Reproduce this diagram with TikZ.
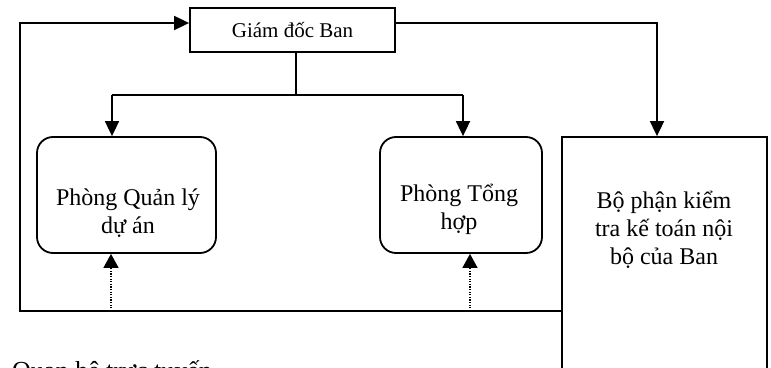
\documentclass[tikz,border=0pt]{standalone}
\usepackage{fontspec}
\setmainfont{Liberation Serif}
\usetikzlibrary{arrows.meta}
\tikzset{
  conn/.style={line width=1.8pt},
  arr/.style={conn,-{Triangle[length=15pt,width=14pt]}},
  dotarr/.style={line width=1.3pt,dash pattern=on 1.3pt off 1.3pt,-{Triangle[length=14pt,width=15pt]}},
  boxsq/.style={draw,line width=1.8pt,rectangle,inner sep=0pt},
  boxrd/.style={draw,line width=1.8pt,rectangle,rounded corners=16pt,inner sep=0pt},
  txt/.style={align=center,inner sep=0pt,font=\fontsize{24}{28}\selectfont}
}
\begin{document}
\begin{tikzpicture}[x=1pt,y=-1pt]
\useasboundingbox (0,0) rectangle (771,367);
\clip (0,0) rectangle (771,367);
\fill[white] (0,0) rectangle (771,367);
% boxes
\node[boxsq,minimum width=205pt,minimum height=44pt,font=\fontsize{21}{25}\selectfont] (gd) at (292.5,30) {Giám đốc Ban};
\node[boxrd,minimum width=179pt,minimum height=116pt] (qlda) at (126.5,195) {};
\node[boxrd,minimum width=162pt,minimum height=116pt] (th) at (461,195) {};
\node[boxsq,minimum width=205pt,minimum height=262pt] (kt) at (664.5,268) {};
% texts
\node[txt] (qlda-t) at (128,213) {Phòng Quản lý\\dự án};
\node[txt] (th-t) at (459,209) {Phòng Tổng\\hợp};
\node[txt] (kt-t) at (664,230) {Bộ phận kiểm\\tra kế toán nội\\bộ của Ban};
\node[anchor=base west,inner sep=0pt,font=\fontsize{26}{30}\selectfont] (leg) at (12,379.5) {Quan hệ trực tuyến};
% coordinates
\coordinate (j) at (296,95);
\coordinate (jl) at (112,95);
\coordinate (jr) at (463,95);
\coordinate (rk) at (657,23);
\coordinate (lb) at (20,311);
\coordinate (d1) at (111,311);
\coordinate (d2) at (470,311);
% connectors
\draw[conn] (j |- gd.south) -- (j);
\draw[conn] (jl) -- (jr);
\draw[arr] (jl) -- (jl |- qlda.north);
\draw[arr] (jr) -- (jr |- th.north);
\draw[arr] ([yshift=7pt]gd.east) -- (rk) -- (rk |- kt.north);
\draw[arr] (kt.west |- lb) -- (lb) -- (lb |- rk) -- ([yshift=7pt]gd.west);
\draw[dotarr] (d1) -- (d1 |- qlda.south);
\draw[dotarr] (d2) -- (d2 |- th.south);
\end{tikzpicture}
\end{document}
